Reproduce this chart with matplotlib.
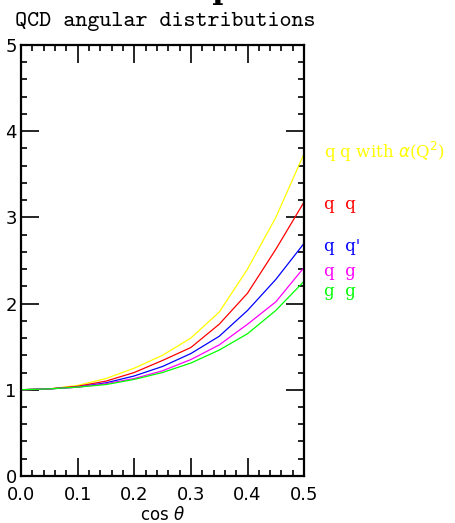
import matplotlib
matplotlib.use("Agg")
import matplotlib.pyplot as plt
from matplotlib.ticker import MultipleLocator

# cos(theta) sample points and curves
cos_theta = [0.0, 0.05, 0.1, 0.15, 0.2, 0.25, 0.3, 0.35, 0.4, 0.45, 0.5]
qq_alpha = [1.0, 1.01, 1.05, 1.13, 1.25, 1.40, 1.60, 1.90, 2.40, 3.00, 3.74]
qq = [1.0, 1.01, 1.04, 1.10, 1.20, 1.34, 1.49, 1.76, 2.12, 2.63, 3.18]
qqp = [1.0, 1.01, 1.03, 1.08, 1.16, 1.27, 1.42, 1.62, 1.92, 2.28, 2.70]
qg = [1.0, 1.01, 1.03, 1.07, 1.13, 1.22, 1.35, 1.52, 1.76, 2.02, 2.42]
gg = [1.0, 1.01, 1.03, 1.06, 1.12, 1.20, 1.31, 1.46, 1.65, 1.92, 2.26]

labels = [r"q q with $\alpha$(Q$^2$)", "q  q", "q  q'", "q  g", "g  g"]
colors = ["#ffff00", "#ff0000", "#0000ff", "#ff00ff", "#00ff00"]
label_y = [3.76, 3.15, 2.66, 2.37, 2.14]

fig = plt.figure(figsize=(4.56, 5.23), dpi=100)
ax = fig.add_axes([0.046, 0.09, 0.621, 0.824])

for ys, c in zip([qq_alpha, qq, qqp, qg, gg], colors):
    ax.plot(cos_theta, ys, color=c, lw=0.9)

for lab, c, yv in zip(labels, colors, label_y):
    ax.text(0.535, yv, lab, color=c, fontsize=12, family="DejaVu Serif",
            va="center", ha="left", clip_on=False)

ax.set_xlim(0, 0.5)
ax.set_ylim(0, 5)
ax.xaxis.set_major_locator(MultipleLocator(0.1))
ax.xaxis.set_minor_locator(MultipleLocator(0.02))
ax.yaxis.set_major_locator(MultipleLocator(1))
ax.yaxis.set_minor_locator(MultipleLocator(0.2))
ax.xaxis.set_major_formatter(matplotlib.ticker.FormatStrFormatter("%.1f"))
ax.tick_params(which="both", direction="in", top=True, right=True, width=1.2, color="black")
ax.tick_params(which="major", length=13)
ax.tick_params(which="minor", length=4)
ax.tick_params(axis="x", labelsize=13, pad=7)
ax.tick_params(axis="y", labelsize=13, pad=3)
for s in ax.spines.values():
    s.set_linewidth(1.6)

ax.set_xlabel(r"cos $\theta$", fontsize=12, labelpad=2)
ax.set_title("QCD angular distributions", family="cmtt10", fontsize=16.5, loc="left",
             x=-0.02, pad=14)

# clipped glyph at the very top of the frame
fig.text(0.478, 0.99, "l", family="DejaVu Serif", weight="bold", fontsize=22,
         ha="center", va="baseline")

fig.savefig("out.png", dpi=100)
